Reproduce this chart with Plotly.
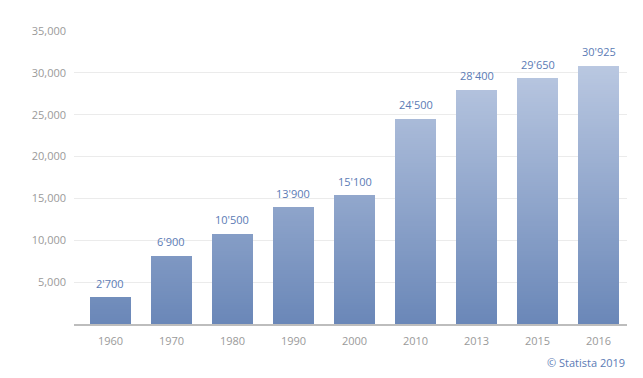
import plotly.graph_objects as go

years = ["1960", "1970", "1980", "1990", "2000", "2010", "2013", "2015", "2016"]
bar_heights = [3150, 8100, 10700, 13900, 15300, 24500, 28000, 29300, 30800]
value_labels = ["2'700", "6'900", "10'500", "13'900", "15'100", "24'500", "28'400", "29'650", "30'925"]
y_ticks = [5000, 10000, 15000, 20000, 25000, 30000, 35000]
y_tick_text = ["5,000", "10,000", "15,000", "20,000", "25,000", "30,000", "35,000"]

bottom_rgb = (106, 135, 184)
top_rgb = (186, 200, 225)
grad_top = 31000
step = 250

fig = go.Figure()

n_levels = int(max(bar_heights) // step) + 1
for k in range(n_levels):
    lo = k * step
    seg = [max(0, min(step, h - lo)) for h in bar_heights]
    t = min(1.0, (lo + step / 2) / grad_top)
    c = tuple(round(b + (a - b) * t) for a, b in zip(top_rgb, bottom_rgb))
    fig.add_trace(go.Bar(
        x=years, y=seg,
        marker=dict(color=f"rgb{c}", line=dict(width=0)),
        hoverinfo="skip", showlegend=False,
    ))

annotations = [
    dict(x=i, y=h, text=lab, showarrow=False, xanchor="center", yanchor="bottom",
         yshift=5, font=dict(family="Open Sans", size=11, color="#5b7bb5"))
    for i, (h, lab) in enumerate(zip(bar_heights, value_labels))
]
annotations.append(dict(
    text="© Statista 2019", xref="paper", yref="paper", x=1, y=-0.13,
    xanchor="right", yanchor="middle", showarrow=False,
    font=dict(family="Open Sans", size=11, color="#5b7bb5"),
))

fig.update_layout(
    barmode="stack",
    bargap=0.328,
    width=643, height=378,
    margin=dict(l=74, r=16, t=31, b=54),
    plot_bgcolor="white", paper_bgcolor="white",
    font=dict(family="Open Sans", size=11, color="#9a9a9a"),
    xaxis=dict(
        type="category", range=[-0.598, len(years) - 1 + 0.467],
        showgrid=False, ticks="", ticklabelstandoff=6,
        tickfont=dict(size=11, color="#9a9a9a"),
        showline=True, linecolor="#bdbdbd", linewidth=2,
    ),
    yaxis=dict(
        range=[0, 35000], tickvals=y_ticks, ticktext=y_tick_text,
        showgrid=True, gridcolor="#ebebeb", gridwidth=1,
        zeroline=False, ticks="", ticklabelstandoff=7,
        tickfont=dict(size=11, color="#9a9a9a"),
    ),
    annotations=annotations,
)

fig.write_html("out.html", config={"displayModeBar": False},
               post_script="document.body.style.margin='0';")
